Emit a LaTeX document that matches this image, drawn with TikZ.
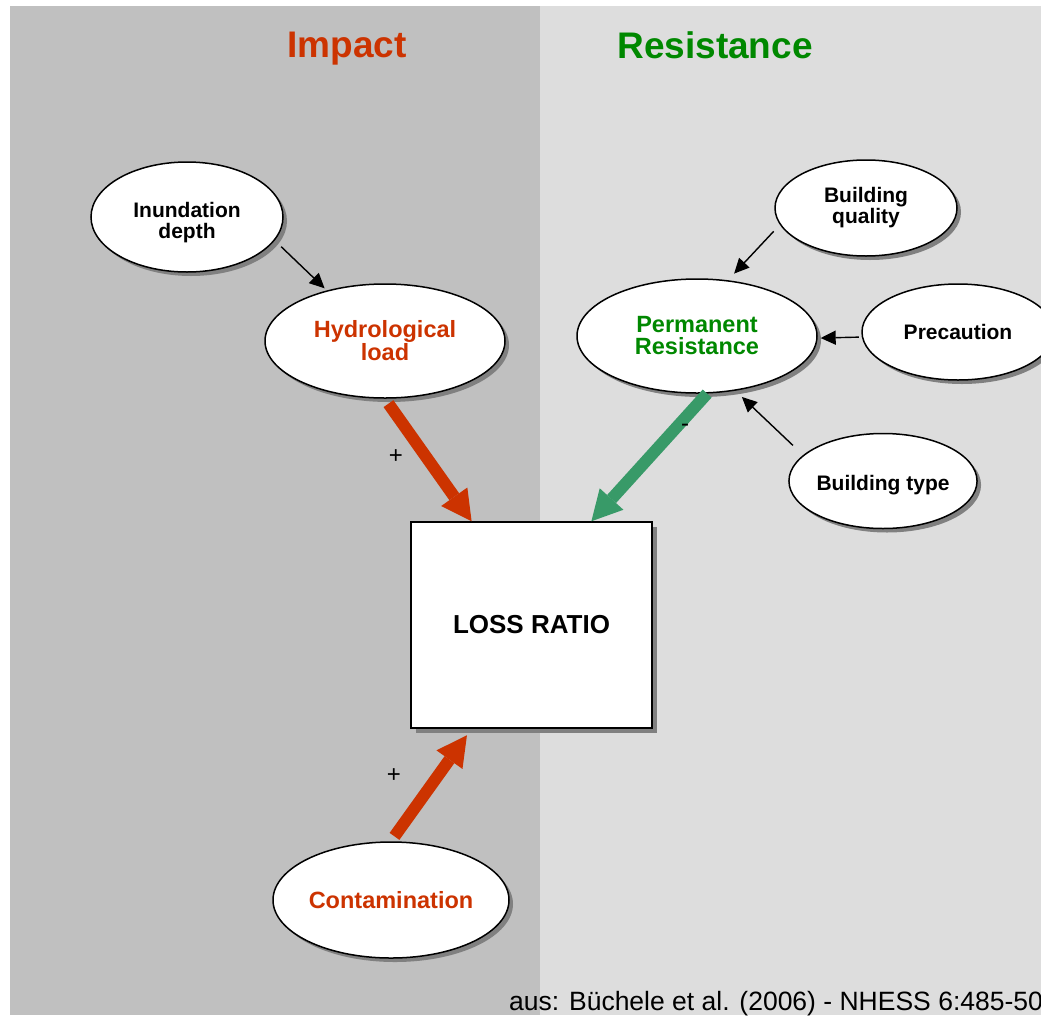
\documentclass[tikz,border=0pt]{standalone}
\usepackage{fontspec}
\setmainfont{Liberation Sans}
\usetikzlibrary{arrows.meta,shapes.geometric,shadows}
\definecolor{impactred}{RGB}{204,51,0}
\definecolor{resgreen}{RGB}{0,136,0}
\definecolor{arrowgreen}{RGB}{56,154,104}
\definecolor{darkpanel}{RGB}{192,192,192}
\definecolor{lightpanel}{RGB}{221,221,221}

\begin{document}
\begin{tikzpicture}[x = 1pt, y = -1pt]
        \tikzstyle{factor} = [ellipse, draw, line width = 1.5pt, fill = white, inner sep = 0pt, align = center, font = \bfseries\fontsize{21}{21}\selectfont, drop shadow = {shadow xshift = 4pt, shadow yshift = -4pt, fill = black!50, opacity = 1}]
        \tikzstyle{mainfactor} = [factor, font = \bfseries\fontsize{23.5}{22}\selectfont]
        \tikzstyle{thin arrow} = [-{Triangle[length = 15pt, width = 14pt]}, line width = 1.4pt]
        \tikzstyle{thick arrow} = [-{Triangle[length = 30pt, width = 32pt, line width = 0pt]}, line width = 12pt]
        \tikzstyle{sign} = [font = \fontsize{24}{24}\selectfont, inner sep = 0pt]
        \tikzstyle{title} = [anchor = base, inner sep = 0pt, font = \bfseries\fontsize{37}{37}\selectfont]

        \useasboundingbox (0,0) rectangle (1041,1015);
        \clip (0,0) rectangle (1041,1015);
        \fill[white] (0,0) rectangle (1041,1015);
        \fill[darkpanel] (10,6) rectangle (540,1015);
        \fill[lightpanel] (540,6) rectangle (1041,1015);

        \node[title, text = impactred](Impact) at (347,57) {Impact};
        \node[title, text = resgreen](Resistance) at (715,58) {Resistance};

        \node[factor, text height = 43pt, text depth = 0pt, minimum width = 192pt, minimum height = 110pt](Depth) at (187,217) {Inundation\\depth};
        \node[mainfactor, text = impactred, minimum width = 240pt, minimum height = 114pt](Hydro) at (385,341) {Hydrological\\load};
        \node[mainfactor, text = resgreen, minimum width = 240pt, minimum height = 114pt](Permanent) at (697,336) {Permanent\\Resistance};
        \node[factor, minimum width = 182pt, minimum height = 96pt](Quality) at (866,208) {Building\\quality};
        \node[factor, minimum width = 192pt, minimum height = 96pt](Precaution) at (958,332) {Precaution};
        \node[factor, text height = 19pt, text depth = 0pt, minimum width = 184pt, minimum height = 95pt](Type) at (883,481) {Building type};
        \node[mainfactor, text = impactred, minimum width = 236pt, minimum height = 116pt](Contamination) at (391,900) {Contamination};
        \node[rectangle, draw, line width = 1.5pt, fill = white, minimum width = 241pt, minimum height = 206pt, font = \bfseries\fontsize{26}{26}\selectfont, drop shadow = {shadow xshift = 5pt, shadow yshift = -5pt, fill = black!50, opacity = 1}](Loss) at (531.5,625) {LOSS RATIO};

        \draw [thin arrow, shorten <= 9pt, shorten >= 3pt] (Depth.-15) -- (Hydro.139);
        \draw [thin arrow, shorten <= 9pt, shorten >= 9pt] (Quality.191) -- (Permanent.61);
        \draw [thin arrow, shorten <= 3pt, shorten >= 3pt] (Precaution.183) -- (Permanent.-1);
        \draw [thin arrow, shorten <= 14pt, shorten >= 9pt] (Type.162) -- (Permanent.-55);

        \draw [thick arrow, impactred, shorten <= 6pt] (Hydro.south) -- (Loss.120);
        \draw [thick arrow, arrowgreen] (Permanent.-80) -- (Loss.60);
        \draw [thick arrow, impactred, shorten <= 6pt, shorten >= 8pt] (Contamination.north) -- (Loss.-120);

        \node[sign](Plus hydro) at (396,457) {+};
        \node[sign](Minus permanent) at (685,428) {-};
        \node[sign](Plus contamination) at (394,776) {+};

        \node[anchor = base west, inner sep = 0pt, font = \fontsize{26.5}{26.5}\selectfont](Source) at (509,1010) {aus: Büchele et al. (2006) - NHESS 6:485-503};

    \end{tikzpicture}
\end{document}
